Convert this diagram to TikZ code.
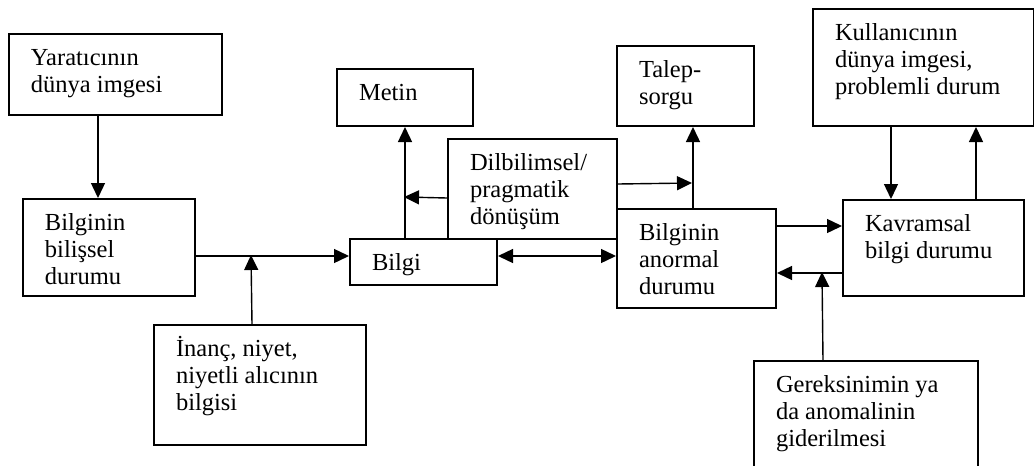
\documentclass[tikz,border=0pt]{standalone}
\usepackage{fontspec}
\setmainfont{Liberation Serif}
\usetikzlibrary{arrows.meta}

% box text: width, height, lines
\newcommand{\kutuyazi}[3]{\parbox[t][#2pt][t]{#1pt}{\raggedright\leftskip=22pt\rule{0pt}{31pt}#3}}

\tikzset{
  kutu/.style={draw, line width=2pt, anchor=north west, inner sep=0pt,
    font=\fontsize{24.5}{27}\selectfont},
  ok/.style={-{Triangle[length=15pt,width=14pt]}, line width=1.4pt},
  cift/.style={{Triangle[length=15pt,width=14pt]}-{Triangle[length=15pt,width=14pt]}, line width=1.4pt}
}

\begin{document}
\begin{tikzpicture}[x=1pt, y=-1pt]
\clip (0,0) rectangle (1034,466);
\node[kutu] (yaratici) at (8,33) {\kutuyazi{213}{81}{Yaratıcının\\dünya imgesi}};
\node[kutu] (bilis) at (22,198) {\kutuyazi{172}{97}{Bilginin\\bilişsel\\durumu}};
\node[kutu] (inanc) at (153,324) {\kutuyazi{212}{120}{İnanç, niyet,\\niyetli alıcının\\bilgisi}};
\node[kutu] (bilgi) at (349,238) {\kutuyazi{147}{46}{Bilgi}};
\node[kutu] (metin) at (336,68) {\kutuyazi{136}{57}{Metin}};
\node[kutu] (dilbil) at (447,138) {\kutuyazi{169}{100}{Dilbilimsel/\\pragmatik\\dönüşüm}};
\node[kutu] (talep) at (616,45) {\kutuyazi{137}{80}{Talep-\\sorgu}};
\node[kutu] (anormal) at (616,208) {\kutuyazi{159}{99}{Bilginin\\anormal\\durumu}};
\node[kutu] (kavram) at (842,199) {\kutuyazi{181}{96}{Kavramsal\\bilgi durumu}};
\node[kutu] (kullanici) at (812,8) {\kutuyazi{221}{117}{Kullanıcının\\dünya imgesi,\\problemli durum}};
\node[kutu] (gerek) at (753,360) {\kutuyazi{224}{120}{Gereksinimin ya\\da anomalinin\\giderilmesi}};

\coordinate (kesisim) at (251,255);
\coordinate (metinhat) at (404,197);
\coordinate (talephat) at (692,183);
\coordinate (gerekhat) at (822,272);

\draw[ok] ([xshift=-17.5pt]yaratici.south) -- ([xshift=-11pt]bilis.north);
\draw[ok] ([yshift=-8.5pt]bilis.east) -- ([yshift=6pt]bilgi.west);
\draw[ok] ([xshift=-8pt]inanc.north) -- (kesisim);
\draw[ok] ([xshift=-18.5pt]bilgi.north) -- (metin.south);
\draw[ok] ([yshift=-9pt]dilbil.west) -- (metinhat);
\draw[ok] ([yshift=5pt]dilbil.east) -- (talephat);
\draw[ok] ([xshift=-3.5pt]anormal.north) -- ([xshift=7.5pt]talep.south);
\draw[cift] ([yshift=6pt]bilgi.east) -- ([yshift=2.5pt]anormal.west);
\draw[ok] ([yshift=32.5pt]anormal.east) -- ([yshift=22pt]kavram.west);
\draw[ok] ([yshift=-25pt]kavram.west) -- ([yshift=-14.5pt]anormal.east);
\draw[ok] ([xshift=-43pt]gerek.north) -- (gerekhat);
\draw[ok] ([xshift=-32.5pt]kullanici.south) -- ([xshift=-42.5pt]kavram.north);
\draw[ok] ([xshift=42.5pt]kavram.north) -- ([xshift=52.5pt]kullanici.south);
\end{tikzpicture}
\end{document}
